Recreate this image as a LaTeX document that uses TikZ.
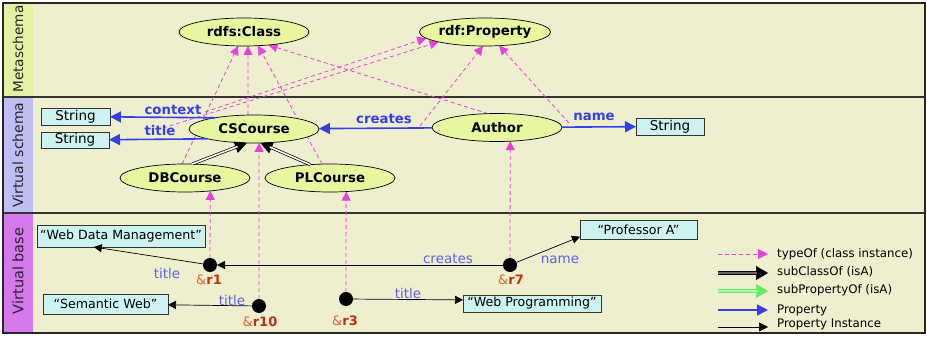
\documentclass[tikz,border=0pt]{standalone}
\usepackage{fontspec}
\setmainfont{DejaVu Sans}
\usetikzlibrary{shapes.geometric,arrows.meta,calc}
\definecolor{bgc}{RGB}{239,239,208}
\definecolor{metac}{RGB}{226,241,164}
\definecolor{vschc}{RGB}{190,190,245}
\definecolor{vbasec}{RGB}{212,120,236}
\definecolor{ellc}{RGB}{232,246,160}
\definecolor{boxc}{RGB}{204,242,242}
\definecolor{propc}{RGB}{52,64,228}
\definecolor{lblc}{RGB}{88,100,230}
\definecolor{typc}{RGB}{232,64,220}
\definecolor{ampc}{RGB}{212,104,56}
\definecolor{refc}{RGB}{186,48,20}
\definecolor{subpc}{RGB}{100,236,100}
\pgfdeclarelayer{back}
\pgfdeclarelayer{mid}
\pgfsetlayers{back,mid,main}
\tikzset{
  cls/.style={ellipse,draw=black,line width=0.7pt,fill=ellc,minimum width=130pt,minimum height=28pt,inner sep=0pt,outer sep=0pt,font=\fontsize{13.3}{15}\selectfont\bfseries},
  valbox/.style={rectangle,draw=black!80,line width=0.8pt,fill=boxc,inner sep=0pt,outer sep=0pt,font=\fontsize{13.5}{15}\selectfont},
  litbox/.style={valbox,font=\fontsize{12.6}{14}\selectfont},
  typeof/.style={draw=typc,line width=0.8pt,dash pattern=on 4pt off 3pt,-{Triangle[length=9pt,width=9pt]},color=typc},
  propedge/.style={draw=propc,line width=1.6pt,-{Triangle[length=11pt,width=11pt]},color=propc},
  pinst/.style={draw=black,line width=0.7pt,-{Triangle[length=8pt,width=8pt]}},
  subtip/.style={draw=black,line width=0.6pt,-{Triangle[length=12pt,width=12pt]}},
  subline/.style={draw=black,line width=0.7pt,double=white,double distance=1.6pt,shorten >=10pt},
  dot/.style={circle,fill=black,minimum size=14pt,inner sep=0pt,outer sep=0pt},
  plabel/.style={font=\fontsize{13.3}{15}\selectfont\bfseries,text=propc,inner sep=0pt},
  ilabel/.style={font=\fontsize{13.5}{15}\selectfont,text=lblc,inner sep=0pt},
  rlabel/.style={font=\fontsize{13}{15}\selectfont,inner sep=0pt},
  bandlabel/.style={rotate=90,text=black!85,inner sep=0pt},
  legtext/.style={anchor=west,font=\fontsize{11.8}{13}\selectfont,inner sep=0pt}
}
\newcommand{\refmark}[1]{{\color{ampc}\&}{\color{refc}\bfseries #1}}
\begin{document}
\begin{tikzpicture}[x=1pt,y=-1pt]
\useasboundingbox (0,0) rectangle (927,337);
\begin{pgfonlayer}{back}
  \fill[white] (0,0) rectangle (927,337);
  \fill[bgc] (3,3) rectangle (925,333);
  \fill[metac] (3,3) rectangle (33,97);
  \fill[vschc] (3,97) rectangle (33,213);
  \fill[vbasec] (3,213) rectangle (33,333);
  \draw[black!80,line width=1.2pt] (3,97) -- (925,97);
  \draw[black!80,line width=1.2pt] (3,213) -- (925,213);
  \draw[black!85,line width=1.5pt] (3,3) rectangle (925,333);
\end{pgfonlayer}

\node[bandlabel,font=\fontsize{13.6}{15}\selectfont] (lmeta) at (18,49) {Metaschema};
\node[bandlabel,font=\fontsize{14}{15}\selectfont] (lvsch) at (18,155) {Virtual schema};
\node[bandlabel,font=\fontsize{14.5}{16}\selectfont] (lvbas) at (18,271) {Virtual base};

% metaschema
\node[cls] (cls) at (244,32) {rdfs:Class};
\node[cls] (prp) at (485,32) {rdf:Property};

% virtual schema
\node[cls] (cs) at (254,129) {CSCourse};
\node[cls] (au) at (497,127.5) {Author};
\node[cls] (db) at (185,178) {DBCourse};
\node[cls] (pl) at (330,178) {PLCourse};
\node[valbox,minimum width=69pt,minimum height=17pt] (str1) at (75.5,116.5) {String};
\node[valbox,minimum width=68pt,minimum height=16pt] (str2) at (75,140) {String};
\node[valbox,minimum width=68pt,minimum height=17pt] (str3) at (670,126.5) {String};

\draw[propedge] (cs.164.6) -- (str1);
\draw[propedge] (cs.192.4) -- (str2);
\draw[propedge] (au) -- (cs);
\draw[propedge] (au) -- (str3);
\node[plabel] (lctx) at (173,110) {context};
\node[plabel] (ltit) at (160,131) {title};
\node[plabel] (lcre) at (384,119) {creates};
\node[plabel] (lnam) at (594,117) {name};

\draw[subtip] (db.63.3) -- (cs.-117.5);
\draw[subline] (db.63.3) -- (cs.-117.5);
\draw[subtip] (pl.146.4) -- (cs.-65.8);
\draw[subline] (pl.146.4) -- (cs.-65.8);

% virtual base
\node[litbox,minimum width=168pt,minimum height=22pt] (wdm) at (121,236) {“Web Data Management”};
\node[litbox,minimum width=125pt,minimum height=20pt] (sw) at (105.5,304) {“Semantic Web”};
\node[litbox,minimum width=117pt,minimum height=19pt] (prof) at (638.5,229.5) {“Professor A”};
\node[litbox,minimum width=138pt,minimum height=17pt] (wp) at (532,303.5) {“Web Programming”};

\node[dot] (r1) at (210,265) {};
\node[dot] (r10) at (259,306) {};
\node[dot] (r3) at (346,299) {};
\node[dot] (r7) at (510,265) {};

\draw[pinst] (r1) -- (wdm.-158.6);
\draw[pinst] (r7) -- (r1);
\draw[pinst] (r7) -- (prof.-173.7);
\draw[pinst] (r10) -- (sw);
\draw[pinst] (r3) -- (wp.177.1);

\node[ilabel] (lt1) at (167,273) {title};
\node[ilabel] (lt10) at (232,300) {title};
\node[ilabel] (lt3) at (408,293) {title};
\node[ilabel] (lcr) at (448,259) {creates};
\node[ilabel] (lnm) at (560,260) {name};
\node[rlabel] (n1) at (209,280) {\refmark{r1}};
\node[rlabel] (n10) at (260,322) {\refmark{r10}};
\node[rlabel] (n3) at (345,321) {\refmark{r3}};
\node[rlabel] (n7) at (511,280) {\refmark{r7}};

% typeOf links
\coordinate (ctxp) at (205,112);
\coordinate (titp) at (163,128);
\coordinate (crp) at (420,126);
\coordinate (nmp) at (569,123);
\begin{pgfonlayer}{mid}
  \draw[typeof] (db.102) -- (cls.-113.3);
  \draw[typeof] (cs.113.3) -- (cls.-74);
  \draw[typeof] (pl.120) -- (cls.-44.4);
  \draw[typeof] (au.123) -- (cls.-28.4);
  \draw[typeof] (ctxp) -- (prp.-174.9);
  \draw[typeof] (titp) -- (prp.-168.3);
  \draw[typeof] (crp) -- (prp.-98);
  \draw[typeof] (nmp) -- (prp.-44.4);
  \draw[typeof] (r1) -- (db.-27.3);
  \draw[typeof] (r10) -- (cs.-70);
  \draw[typeof] (r3) -- (pl.-40.4);
  \draw[typeof] (r7) -- (au.-46.5);
\end{pgfonlayer}

% legend
\coordinate (la1) at (718,254); \coordinate (lb1) at (768,254);
\coordinate (la2) at (718,273); \coordinate (lb2) at (768,273);
\coordinate (la3) at (718,291); \coordinate (lb3) at (768,291);
\coordinate (la4) at (718,310); \coordinate (lb4) at (768,310);
\coordinate (la5) at (718,327); \coordinate (lb5) at (768,327);
\draw[typeof,-{Triangle[length=10pt,width=10pt]}] (la1) -- (lb1);
\draw[subtip,-{Triangle[length=12pt,width=14pt]}] (la2) -- (lb2);
\draw[draw=black,line width=0.8pt,double=black!60,double distance=2.4pt,shorten >=11pt] (la2) -- (lb2);
\draw[draw=subpc,fill=subpc,line width=0.6pt,-{Triangle[length=12pt,width=14pt]}] (la3) -- (lb3);
\draw[draw=subpc,line width=0.8pt,double=subpc!55!white,double distance=2.4pt,shorten >=11pt] (la3) -- (lb3);
\draw[propedge,-{Triangle[length=11pt,width=11pt]}] (la4) -- (lb4);
\draw[pinst,-{Triangle[length=9pt,width=9pt]}] (la5) -- (lb5);
\node[legtext] (t1) at (777,254) {typeOf (class instance)};
\node[legtext] (t2) at (777,272) {subClassOf (isA)};
\node[legtext] (t3) at (777,290) {subPropertyOf (isA)};
\node[legtext] (t4) at (777,310) {Property};
\node[legtext] (t5) at (777,324) {Property Instance};
\end{tikzpicture}
\end{document}
